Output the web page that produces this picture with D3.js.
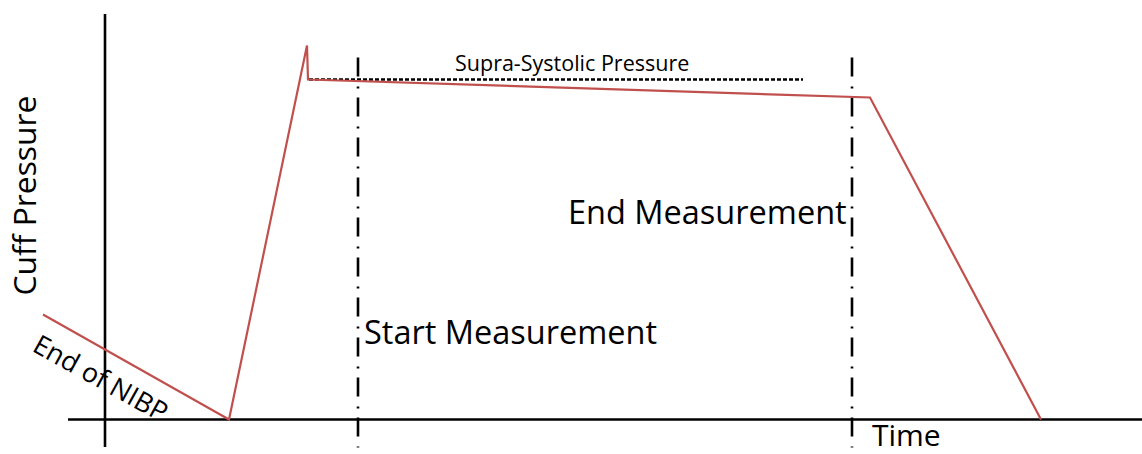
<!DOCTYPE html>
<html>
<head>
<meta charset="utf-8">
<script src="https://cdn.jsdelivr.net/npm/d3@7"></script>
<style>
html,body{margin:0;padding:0;background:#fff;}
svg{display:block;}
text{font-family:"Open Sans","Noto Sans",sans-serif;fill:#000;}
</style>
</head>
<body>
<script>
// ---- data (time in arbitrary units, pressure in arbitrary units) ----
const timePoints = [-6.2, 12.4, 20.2, 20.3, 76.5, 93.6];
const pressureValues = [52.5, 0, 187, 170, 161, 0];
const markerTimes = [25.3, 74.7];           // Start / End measurement
const markerLabels = ["Start Measurement", "End Measurement"];
const supraLine = {t0: 20.4, t1: 69.8, p: 170};
const supraLabel = "Supra-Systolic Pressure";
const xAxisLabel = "Time";
const yAxisLabel = "Cuff Pressure";
const startLabel = "End of NIBP";

const W = 1142, H = 454;
const x = d3.scaleLinear().domain([0, 100]).range([105, 1105]);
const y = d3.scaleLinear().domain([0, 200]).range([419.5, 19.5]);

const svg = d3.select("body").append("svg").attr("width", W).attr("height", H);

// axes
svg.append("line").attr("x1", x(-3.7)).attr("x2", x(103.7)).attr("y1", y(0)).attr("y2", y(0))
  .attr("stroke", "#000").attr("stroke-width", 2.6);
svg.append("line").attr("x1", x(0)).attr("x2", x(0)).attr("y1", y(-13.8)).attr("y2", y(202.7))
  .attr("stroke", "#000").attr("stroke-width", 2.6);

// marker lines (dash-dot)
svg.selectAll("line.marker").data(markerTimes).join("line").attr("class", "marker")
  .attr("x1", d => x(d)).attr("x2", d => x(d))
  .attr("y1", y(181)).attr("y2", y(-14))
  .attr("stroke", "#000").attr("stroke-width", 2.6)
  .attr("stroke-dasharray", "19,10,2,9");

// supra-systolic dotted line
svg.append("line").attr("x1", x(supraLine.t0)).attr("x2", x(supraLine.t1))
  .attr("y1", y(supraLine.p)).attr("y2", y(supraLine.p))
  .attr("stroke", "#000").attr("stroke-width", 2.4).attr("stroke-dasharray", "4,2");

// pressure curve
const pts = timePoints.map((t, i) => [t, pressureValues[i]]);
svg.append("path").datum(pts)
  .attr("d", d3.line().x(d => x(d[0])).y(d => y(d[1])))
  .attr("fill", "none").attr("stroke", "#C0504D").attr("stroke-width", 2.2)
  .attr("stroke-linejoin", "miter");

// labels
svg.append("text").attr("x", x(35)).attr("y", y(174.5)).attr("font-size", 21.5).text(supraLabel);
svg.append("text").attr("x", x(46.3)).attr("y", y(98)).attr("font-size", 32.5).text(markerLabels[1]);
svg.append("text").attr("x", x(25.9)).attr("y", y(38)).attr("font-size", 32.5).text(markerLabels[0]);
svg.append("text").attr("x", x(76.7)).attr("y", y(-13.2)).attr("font-size", 30).text(xAxisLabel);
svg.append("text").attr("transform", `translate(${x(-6.9)},${y(62)}) rotate(-90)`)
  .attr("font-size", 31.8).text(yAxisLabel);
svg.append("text").attr("transform", `translate(${x(-7.4)},${y(34.5)}) rotate(29)`)
  .attr("font-size", 27).text(startLabel);
</script>
</body>
</html>
